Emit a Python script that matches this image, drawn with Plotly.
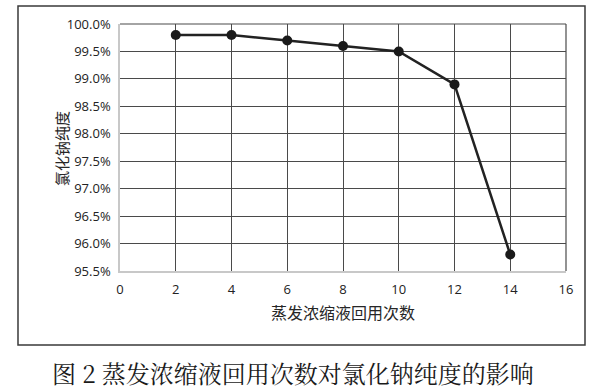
import plotly.graph_objects as go

reuse_times = [2, 4, 6, 8, 10, 12, 14]
purity = [99.8, 99.8, 99.7, 99.6, 99.5, 98.9, 95.8]
x_title = "蒸发浓缩液回用次数"
y_title = "氯化钠纯度"
caption = "图 2 蒸发浓缩液回用次数对氯化钠纯度的影响"

fig = go.Figure()
fig.add_trace(go.Scatter(
    x=reuse_times, y=purity, mode="lines+markers",
    line=dict(color="#222222", width=2.5),
    marker=dict(color="#1a1a1a", size=10),
    showlegend=False,
))

tickfont = dict(family="Open Sans, Liberation Sans, sans-serif", size=13, color="#222222")
fig.update_xaxes(
    range=[0, 16], dtick=2, tick0=0,
    showgrid=True, gridcolor="#4a4a4a", gridwidth=1.2,
    zeroline=False, showline=True, linecolor="#c8c8c8", linewidth=1.5,
    ticks="", tickfont=tickfont, ticklabelstandoff=6,
    title=dict(text=x_title, font=dict(family="Noto Sans CJK SC", size=16, color="#262626"), standoff=10),
)
fig.update_yaxes(
    range=[95.5, 100], dtick=0.5, tick0=95.5,
    tickformat=".1f", ticksuffix="%",
    showgrid=True, gridcolor="#4a4a4a", gridwidth=1.2,
    zeroline=False, showline=True, linecolor="#c8c8c8", linewidth=1.5,
    ticks="", tickfont=tickfont, ticklabelstandoff=5,
)

# y-axis title placed as rotated text
fig.add_annotation(text=y_title, xref="paper", yref="paper",
                   x=-0.130, y=0.494, xanchor="center", yanchor="middle",
                   textangle=-90, showarrow=False,
                   font=dict(family="Noto Sans CJK SC", size=15, color="#262626"))

# top and right grid edges (dark, as in the reference)
fig.add_shape(type="line", xref="paper", yref="paper", x0=0, x1=1, y0=1, y1=1,
              line=dict(color="#4a4a4a", width=1.2), layer="below")
fig.add_shape(type="line", xref="paper", yref="paper", x0=1, x1=1, y0=0, y1=1,
              line=dict(color="#4a4a4a", width=1.2), layer="below")

fig.add_shape(type="rect", xref="paper", yref="paper",
              x0=-0.2287, x1=1.0426, y0=-0.2996, y1=1.0729,
              line=dict(color="#3a3a3a", width=1.5), layer="below")

fig.add_annotation(text=caption, xref="paper", yref="paper",
                   x=0.387, y=-0.41, xanchor="center", yanchor="middle",
                   showarrow=False,
                   font=dict(family="Noto Serif CJK SC, Noto Sans CJK SC", size=24, color="#1a1a1a"))

fig.update_layout(
    width=593, height=389,
    margin=dict(l=120, r=27, t=24, b=118),
    paper_bgcolor="white", plot_bgcolor="white",
)
fig.write_html("out.html")
